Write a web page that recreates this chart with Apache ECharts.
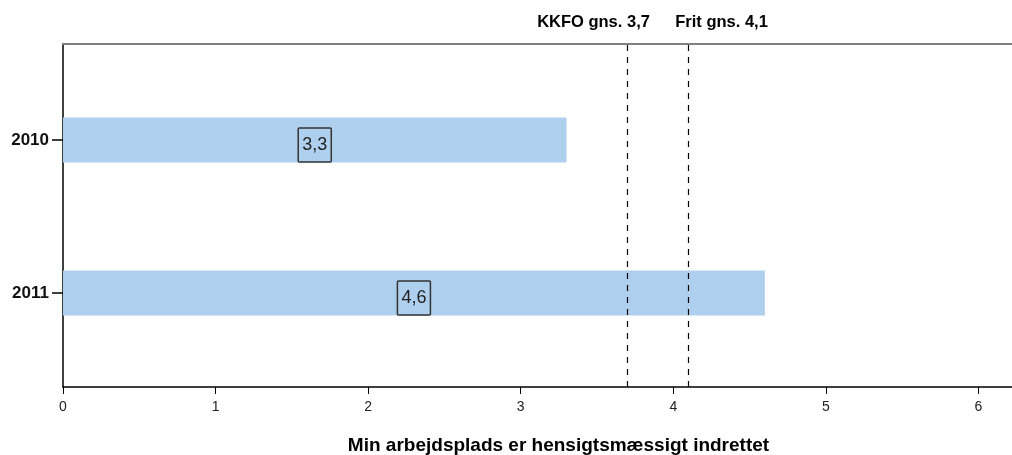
<!DOCTYPE html>
<html>
<head>
<meta charset="utf-8">
<script src="https://cdn.jsdelivr.net/npm/echarts@6/dist/echarts.min.js"></script>
<style>html,body{margin:0;padding:0;background:#fff}#c{width:1012px;height:455px}</style>
</head>
<body>
<div id="c"></div>
<script>
var categories = ['2010', '2011'];
var values = [3.3, 4.6];
var refValues = [3.7, 4.1];
var refLabels = ['KKFO gns. 3,7', 'Frit gns. 4,1'];
var xTicks = [0, 1, 2, 3, 4, 5, 6];
var xTitle = 'Min arbejdsplads er hensigtsmæssigt indrettet';
var xMax = 6.22;

var font = '"Liberation Sans", Arial, sans-serif';
var chart = echarts.init(document.getElementById('c'));
chart.setOption({
  animation: false,
  backgroundColor: '#fff',
  textStyle: { fontFamily: font },
  grid: [
    { left: 63, right: 0, top: 44, bottom: 68, containLabel: false, outerBoundsMode: 'none' },
    { left: 63, right: 0, top: 63.5, bottom: 85.5, containLabel: false, outerBoundsMode: 'none' }
  ],
  xAxis: [
    {
      gridIndex: 0, type: 'value', min: 0, max: xMax,
      axisLine: { show: true, lineStyle: { color: '#000', width: 1.5 } },
      axisTick: { show: true, length: 7, inside: false, customValues: xTicks, lineStyle: { color: '#000', width: 1 } },
      axisLabel: { customValues: xTicks, color: '#222', fontSize: 14, margin: 13, fontFamily: font,
        formatter: function (v) { return String(v); } },
      splitLine: { show: false },
      name: xTitle, nameLocation: 'middle', nameGap: 49,
      nameTextStyle: { fontSize: 19, fontWeight: 'bold', color: '#000', fontFamily: font, padding: [0, 0, 0, 42] }
    },
    {
      gridIndex: 0, type: 'value', position: 'top', min: 0, max: xMax,
      axisLine: { show: true, lineStyle: { color: '#808080', width: 2 } },
      axisTick: { show: false }, axisLabel: { show: false }, splitLine: { show: false }
    },
    {
      gridIndex: 1, type: 'value', min: 0, max: xMax, show: false, splitLine: { show: false }
    }
  ],
  yAxis: [
    {
      gridIndex: 0, type: 'value', min: 0, max: 1,
      axisLine: { show: true, lineStyle: { color: '#000', width: 1.5 } },
      axisTick: { show: false }, axisLabel: { show: false }, splitLine: { show: false }
    },
    {
      gridIndex: 1, type: 'category', data: categories, inverse: true,
      axisLine: { show: false },
      axisTick: { show: true, alignWithLabel: true, length: 11, lineStyle: { color: '#000', width: 1.5 } },
      axisLabel: { color: '#111', fontSize: 17, fontWeight: 'bold', margin: 14, fontFamily: font },
      splitLine: { show: false }
    }
  ],
  series: [
    {
      type: 'bar', xAxisIndex: 2, yAxisIndex: 1, data: values, barWidth: 45,
      itemStyle: { color: '#AECFED' },
      label: {
        show: true, position: 'inside', offset: [0, 5],
        formatter: function (p) { return String(p.value).replace('.', ','); },
        color: '#222', fontSize: 18, fontFamily: font,
        borderColor: '#333', borderWidth: 1.5, borderRadius: 1,
        padding: [8, 4, 8, 4]
      }
    },
    {
      type: 'line', xAxisIndex: 0, yAxisIndex: 0, data: [], silent: true,
      markLine: {
        silent: true, symbol: ['none', 'none'],
        lineStyle: { color: '#000', type: [6, 6], width: 1.2 },
        data: refValues.map(function (v, i) {
          return {
            xAxis: v,
            label: {
              show: true, position: 'end', formatter: refLabels[i],
              fontSize: 16.5, fontWeight: 'bold', color: '#000', fontFamily: font,
              offset: [i === 0 ? -34 : 33, -8]
            }
          };
        })
      }
    }
  ]
});
</script>
</body>
</html>
